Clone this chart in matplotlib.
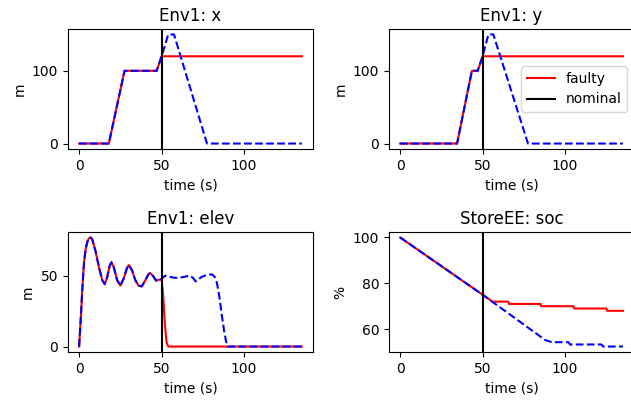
import matplotlib
matplotlib.use("Agg")
import matplotlib.pyplot as plt

# ---- Env1: x -------------------------------------------------------------
x_t_faulty = [0, 18, 27.5, 47, 50, 135]
x_faulty = [0, 0, 100, 100, 120, 120]
x_t_nominal = [0, 18, 27.5, 47, 50, 54, 57.5, 77.5, 135]
x_nominal = [0, 0, 100, 100, 120, 150, 150, 0, 0]

# ---- Env1: y -------------------------------------------------------------
y_t_faulty = [0, 34.5, 43.5, 47, 50, 135]
y_faulty = [0, 0, 100, 100, 120, 120]
y_t_nominal = [0, 34.5, 43.5, 47, 50, 53.5, 56.5, 77.5, 135]
y_nominal = [0, 0, 100, 100, 120, 150, 150, 0, 0]

# ---- Env1: elev ----------------------------------------------------------
elev_t_shared = [0, 1, 2, 3, 4, 5, 6, 7, 8, 10, 12, 14, 15.5, 17, 18.5, 19.6,
                 21, 23, 25, 27, 29, 30, 32, 34, 36, 38, 40, 42, 43, 45, 46.6,
                 48, 50]
elev_shared = [0, 20, 42, 60, 69, 74, 76.5, 77, 75.5, 67, 56, 47, 44, 49, 57,
               59.5, 56, 47, 43, 48, 55.5, 57.5, 54, 47, 43, 42.5, 46.5, 51,
               52, 49.5, 46.5, 47, 47.6]
elev_t_faulty = elev_t_shared + [51, 52, 53, 54, 135]
elev_faulty = elev_shared + [35, 15, 3, 0, 0]
elev_t_nominal = elev_t_shared + [51, 52.4, 55, 58, 61, 64, 67, 69, 70.6, 72,
                                  74, 76, 78, 80.4, 82, 83.5, 85, 86.5, 88,
                                  89, 90, 135]
elev_nominal = elev_shared + [49, 50, 49.2, 48.5, 48.5, 49.3, 50, 48.5, 46,
                              47, 49, 50, 50.5, 51, 49.5, 45, 35, 22, 10, 4,
                              0, 0]

# ---- StoreEE: soc --------------------------------------------------------
soc_t_faulty = [0, 50, 56, 65.5, 66, 85, 85.5, 105, 105.5, 125, 125.5, 135]
soc_faulty = [100, 75, 72, 72, 71, 71, 70, 70, 69, 69, 68, 68]
soc_t_nominal = [0, 50, 88, 92, 102, 103, 122, 123, 135]
soc_nominal = [100, 75, 55.2, 54.3, 54.3, 53.3, 53.3, 52.4, 52.4]

fault_time = 50

panels = [
    ("Env1: x", "m", x_t_faulty, x_faulty, x_t_nominal, x_nominal, [0, 100]),
    ("Env1: y", "m", y_t_faulty, y_faulty, y_t_nominal, y_nominal, [0, 100]),
    ("Env1: elev", "m", elev_t_faulty, elev_faulty, elev_t_nominal, elev_nominal, [0, 50]),
    ("StoreEE: soc", "%", soc_t_faulty, soc_faulty, soc_t_nominal, soc_nominal, [60, 80, 100]),
]

W, H = 631, 400
boxes = [(68, 29), (389, 29), (68, 232), (389, 232)]  # left, top in px
aw, ah = 245, 120

fig = plt.figure(figsize=(W / 100, H / 100), dpi=100)
for (title, unit, tf, vf, tn, vn, yt), (l, t) in zip(panels, boxes):
    ax = fig.add_axes([l / W, (H - t - ah) / H, aw / W, ah / H])
    hf, = ax.plot(tf, vf, color="r", lw=1.5)
    ax.plot(tn, vn, color="b", ls="--", lw=1.5)
    hv = ax.axvline(fault_time, color="k", lw=1.5)
    ax.set_title(title)
    ax.set_ylabel(unit)
    ax.set_xlabel("time (s)")
    ax.set_yticks(yt)
    ax.set_xticks([0, 50, 100])
    if title == "Env1: y":
        ax.legend([hf, hv], ["faulty", "nominal"], loc="center right")

fig.savefig("out.png", dpi=100)
